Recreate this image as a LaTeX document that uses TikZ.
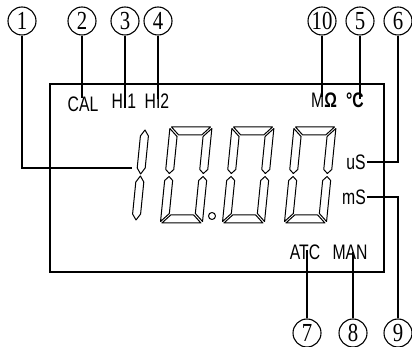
\documentclass[tikz,border=0pt]{standalone}
\usepackage{fontspec}
\setmainfont{Liberation Sans}
\newfontfamily\lcdfont[FakeStretch=0.75]{Liberation Sans}
\newfontfamily\numfont[FakeStretch=0.8]{Liberation Serif}
\newcommand\lcdzero[1]{%
  \begin{scope}[shift={(#1,127)},xslant=0.1]
    \draw[seg] (1.5,0) -- (40.5,0) -- (32.5,8) -- (9.5,8) -- cycle;
    \draw[seg] (1.5,96) -- (40.5,96) -- (32.5,88) -- (9.5,88) -- cycle;
    \draw[seg] (0,1.5) -- (8,9.5) -- (8,42.5) -- (4,46.5) -- (0,42.5) -- cycle;
    \draw[seg] (0,94.5) -- (8,86.5) -- (8,53.5) -- (4,49.5) -- (0,53.5) -- cycle;
    \draw[seg] (42,1.5) -- (34,9.5) -- (34,42.5) -- (38,46.5) -- (42,42.5) -- cycle;
    \draw[seg] (42,94.5) -- (34,86.5) -- (34,53.5) -- (38,49.5) -- (42,53.5) -- cycle;
  \end{scope}}
\begin{document}
\begin{tikzpicture}[x=1pt,y=-1pt,
  num/.style={circle,draw,line width=1.1pt,minimum size=28pt,inner sep=0pt,
    font=\numfont\fontsize{26}{26}\selectfont},
  lbl/.style={inner sep=0pt,font=\lcdfont\fontsize{21}{21}\selectfont},
  lead/.style={line width=1.3pt},
  seg/.style={draw,line width=1pt,line join=round}]
\useasboundingbox (0,0) rectangle (412,347);
% display frame
\draw[lead] (50,84) rectangle (384,272);
% digits
\begin{scope}[shift={(141,130)},xslant=0.1]
  \draw[seg] (4,0) -- (8,6) -- (8,38) -- (4,44) -- (0,38) -- (0,6) -- cycle;
  \draw[seg] (4,46) -- (8,52) -- (8,84) -- (4,90) -- (0,84) -- (0,52) -- cycle;
\end{scope}
\lcdzero{170}
\lcdzero{232}
\lcdzero{294}
\draw[seg] (212,216) circle (3.5);
% labels
\node[lbl] (cal) at (83,104) {CAL};
\node[lbl] (hi1) at (124,101) {HI1};
\node[lbl] (hi2) at (157,101) {HI2};
\node[lbl] (mohm) at (324,100) {M\textbf{Ω}};
\node[lbl] (degc) at (355,100) {\textbf{°C}};
\node[lbl] (us) at (356,162) {uS};
\node[lbl] (ms) at (354,197) {mS};
\node[lbl] (atc) at (305,252) {ATC};
\node[lbl] (man) at (350,252) {MAN};
% numbered circles
\node[num] (c1) at (22,21) {1};
\node[num] (c2) at (82,21) {2};
\node[num] (c3) at (125,21) {3};
\node[num] (c4) at (158,21) {4};
\node[num] (c10) at (322,21) {10};
\node[num] (c5) at (360,21) {5};
\node[num] (c6) at (398,21) {6};
\node[num] (c7) at (307,333) {7};
\node[num] (c8) at (353,333) {8};
\node[num] (c9) at (398,333) {9};
% leader ends
\coordinate (e1) at (132,168);
\coordinate (e2) at (82,98);
\coordinate (e3) at (125,108);
\coordinate (e4) at (158,99);
\coordinate (e10) at (322,97);
\coordinate (e5) at (360,99);
\coordinate (e6) at (367,162);
\coordinate (e7) at (307,250);
\coordinate (e8) at (353,252);
\coordinate (e9) at (367,197);
% leaders
\draw[lead] (c1.south) |- (e1);
\draw[lead] (c2.south) -- (e2);
\draw[lead] (c3.south) -- (e3);
\draw[lead] (c4.south) -- (e4);
\draw[lead] (c10.south) -- (e10);
\draw[lead] (c5.south) -- (e5);
\draw[lead] (c6.south) |- (e6);
\draw[lead] (c7.north) -- (e7);
\draw[lead] (c8.north) -- (e8);
\draw[lead] (c9.north) |- (e9);
\end{tikzpicture}
\end{document}
